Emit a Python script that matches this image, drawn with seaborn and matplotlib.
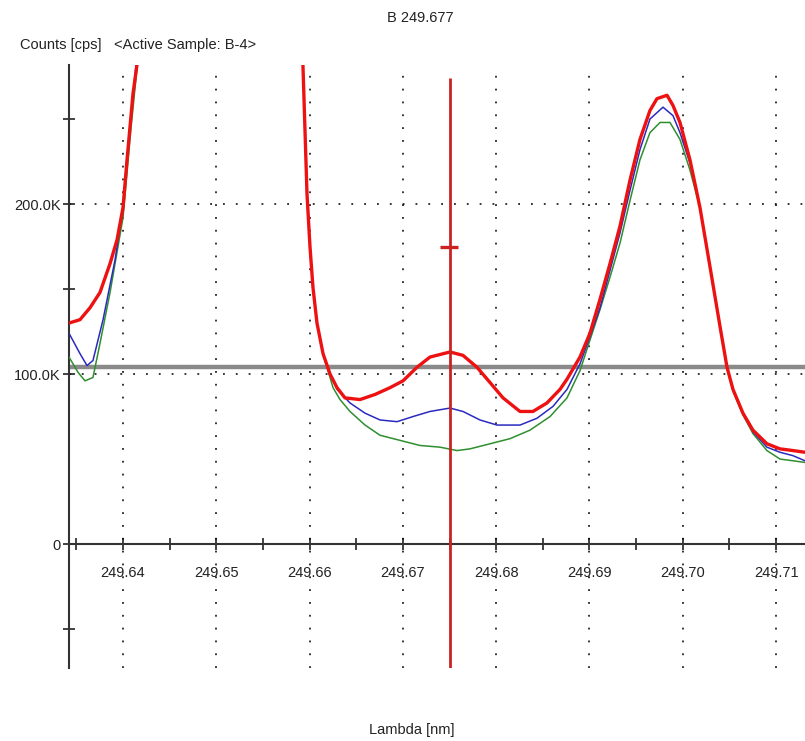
import matplotlib
matplotlib.use("Agg")
import matplotlib.pyplot as plt
import seaborn as sns
from matplotlib.ticker import FixedLocator, FuncFormatter

# ---------------- data (wavelength in nm, counts in K cps) ----------------
red_lambda = [249.63421, 249.63539, 249.63646, 249.63753, 249.63861, 249.63936, 249.64000,
              249.64043, 249.64107, 249.64150, 249.64193, 249.65040, 249.65908, 249.65929,
              249.65972, 249.66004, 249.66036, 249.66079, 249.66144, 249.66219, 249.66294,
              249.66379, 249.66540, 249.66701, 249.66862, 249.67001, 249.67151, 249.67290,
              249.67505, 249.67644, 249.67794, 249.67934, 249.68073, 249.68255, 249.68394,
              249.68544, 249.68684, 249.68759, 249.68898, 249.69005, 249.69113, 249.69220,
              249.69327, 249.69434, 249.69541, 249.69648, 249.69723, 249.69831, 249.69895,
              249.69970, 249.70077, 249.70184, 249.70292, 249.70399, 249.70474, 249.70538,
              249.70645, 249.70752, 249.70902, 249.71042, 249.71181, 249.71310]
red_counts = [130, 132, 139, 148, 165, 179, 198,
              226, 265, 282, 310, 700, 310, 281,
              206, 175, 151, 130, 112, 100, 92,
              86, 85, 88, 92, 96, 104, 110,
              113, 111, 104, 95, 86, 78, 78,
              83, 91, 97, 110, 124, 144, 165,
              187, 214, 238, 255, 262, 264, 258,
              248, 226, 198, 163, 128, 104, 91,
              77, 67, 59, 56, 55, 54]

blue_lambda = [249.63421, 249.63539, 249.63614, 249.63678, 249.63786, 249.63914, 249.64000,
               249.64075, 249.64139, 249.64182, 249.65040, 249.65908, 249.65929, 249.65972,
               249.66004, 249.66036, 249.66079, 249.66144, 249.66219, 249.66294, 249.66433,
               249.66594, 249.66755, 249.66937, 249.67108, 249.67290, 249.67505, 249.67644,
               249.67826, 249.68009, 249.68255, 249.68437, 249.68609, 249.68759, 249.68898,
               249.69005, 249.69113, 249.69220, 249.69327, 249.69434, 249.69541, 249.69648,
               249.69788, 249.69895, 249.69970, 249.70077, 249.70184, 249.70292, 249.70399,
               249.70474, 249.70538, 249.70645, 249.70752, 249.70902, 249.71042, 249.71181,
               249.71310]
blue_counts = [124, 112, 105, 108, 132, 167, 198,
               245, 282, 310, 700, 310, 281, 206,
               175, 151, 130, 112, 100, 91, 83,
               77, 73, 72, 75, 78, 80, 78,
               73, 70, 70, 74, 81, 91, 106,
               122, 139, 161, 183, 208, 232, 250,
               257, 252, 242, 224, 198, 163, 128,
               104, 91, 77, 66, 57, 54, 52,
               49]

green_lambda = [249.63421, 249.63518, 249.63593, 249.63678, 249.63753, 249.63861, 249.64000,
                249.64086, 249.64150, 249.64193, 249.65040, 249.65908, 249.65929, 249.65972,
                249.66004, 249.66036, 249.66079, 249.66144, 249.66187, 249.66251, 249.66326,
                249.66433, 249.66594, 249.66755, 249.66969, 249.67183, 249.67398, 249.67580,
                249.67719, 249.67934, 249.68148, 249.68362, 249.68577, 249.68759, 249.68898,
                249.69005, 249.69113, 249.69220, 249.69327, 249.69434, 249.69541, 249.69648,
                249.69756, 249.69863, 249.69970, 249.70077, 249.70184, 249.70292, 249.70399,
                249.70474, 249.70538, 249.70645, 249.70752, 249.70902, 249.71042, 249.71181,
                249.71310]
green_counts = [110, 101, 96, 98, 118, 148, 192,
                245, 280, 310, 700, 310, 281, 206,
                175, 151, 130, 112, 104, 92, 85,
                78, 70, 64, 61, 58, 57, 55,
                56, 59, 62, 67, 75, 86, 102,
                120, 138, 157, 177, 202, 226, 242,
                248, 248, 238, 220, 198, 163, 128,
                104, 90, 76, 65, 55, 50, 49,
                48]

x_major_ticks = [249.64, 249.65, 249.66, 249.67, 249.68, 249.69, 249.70, 249.71]
x_minor_ticks = [249.635, 249.645, 249.655, 249.665, 249.675, 249.685, 249.695, 249.705]
y_major_ticks = [0, 100, 200]
y_minor_ticks = [-50, 150, 250]

cursor_lambda = 249.67505
cursor_top = 274
cursor_marker = 175
threshold_level = 104.1

x_range = (249.63421, 249.71310)
y_range = (-72.9, 281.8)

# ---------------- figure ----------------
sns.set_style("white")
plt.rcParams["font.family"] = ["Liberation Sans", "DejaVu Sans"]

fig = plt.figure(figsize=(8.05, 7.41), dpi=100)
ax = fig.add_axes([69 / 805, 1 - 668 / 741, 1 - 69 / 805, (668 - 65) / 741])
ax.set_xlim(*x_range)
ax.set_ylim(*y_range)

dot_style = (0, (1.2, 7.2))
for xv in x_major_ticks:
    ax.axvline(xv, color="black", lw=1.1, ls=dot_style, zorder=1)
for yv in [100, 200]:
    ax.axhline(yv, color="black", lw=1.1, ls=dot_style, zorder=1)

# threshold line
ax.axhline(threshold_level, color="#8a8a8a", lw=3.2, zorder=2)

sns.lineplot(x=green_lambda, y=green_counts, color="#2f8f2f", lw=1.1, sort=False,
             estimator=None, ax=ax, zorder=3)
sns.lineplot(x=blue_lambda, y=blue_counts, color="#2a2ac0", lw=1.1, sort=False,
             estimator=None, ax=ax, zorder=4)
sns.lineplot(x=red_lambda, y=red_counts, color="#ee1111", lw=2.4, sort=False,
             estimator=None, ax=ax, zorder=5)

# cursor
ax.plot([cursor_lambda, cursor_lambda], [y_range[0], cursor_top], color="#cc2222",
        lw=2.0, zorder=6, solid_capstyle="butt")
ax.plot([249.67398, 249.67591], [cursor_marker, cursor_marker], color="#cc2222",
        lw=2.4, zorder=6, solid_capstyle="butt")

# axes styling
for s in ["top", "right"]:
    ax.spines[s].set_visible(False)
ax.spines["bottom"].set_position(("data", 0))
ax.spines["bottom"].set_color("#333333")
ax.spines["bottom"].set_linewidth(1.5)
ax.spines["left"].set_color("#333333")
ax.spines["left"].set_linewidth(1.5)
ax.spines["bottom"].set_zorder(2.5)

ax.xaxis.set_major_locator(FixedLocator(x_major_ticks))
ax.xaxis.set_minor_locator(FixedLocator(x_minor_ticks))
ax.yaxis.set_major_locator(FixedLocator(y_major_ticks))
ax.yaxis.set_minor_locator(FixedLocator(y_minor_ticks))
ax.xaxis.set_major_formatter(FuncFormatter(lambda v, p: f"{v:.2f}"))
ax.yaxis.set_major_formatter(FuncFormatter(lambda v, p: "0" if v == 0 else f"{v:.1f}K"))

ax.tick_params(axis="both", which="both", direction="inout", color="#222222",
               width=1.2, length=8, labelsize=10.5, labelcolor="#222222",
               bottom=True, left=True, top=False, right=False)
ax.tick_params(axis="x", which="major", pad=12)
ax.tick_params(axis="y", which="major", pad=2)
ax.set_xlabel("")
ax.set_ylabel("")

fig.text(420 / 805, 1 - 18 / 741, "B 249.677", ha="center", va="center", fontsize=10.5,
         color="#222222")
fig.text(20 / 805, 1 - 45 / 741, "Counts [cps]", ha="left", va="center", fontsize=10.5,
         color="#222222")
fig.text(114 / 805, 1 - 45 / 741, "<Active Sample: B-4>", ha="left", va="center",
         fontsize=10.5, color="#222222")
fig.text(412 / 805, 1 - 730 / 741, "Lambda [nm]", ha="center", va="center", fontsize=10.5,
         color="#222222")

fig.savefig("out.png", dpi=100, facecolor="white")
